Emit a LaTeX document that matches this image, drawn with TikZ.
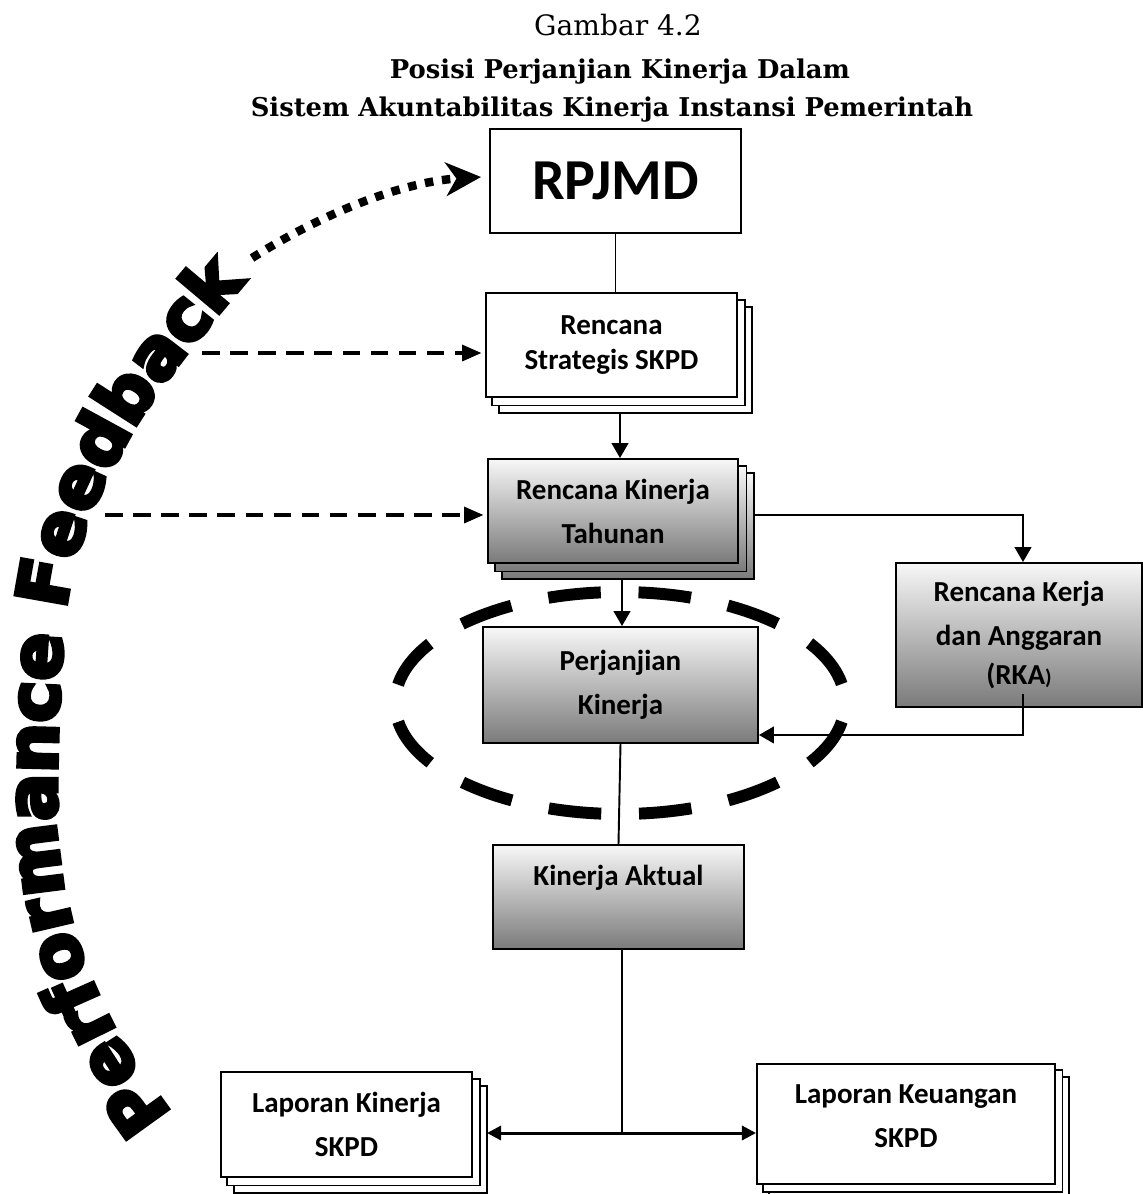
\documentclass[tikz,border=0pt]{standalone}
\usepackage{fontspec}
\setmainfont{Carlito}
\newfontfamily\titlefont{DejaVu Serif}
\newfontfamily\pffont{DejaVu Sans}[BoldFeatures={FakeBold=6}]
\usetikzlibrary{arrows.meta,decorations.text,backgrounds,calc}

% one drawing unit = one pixel of the layout grid
\newlength\pxu
\setlength\pxu{0.02cm}
\newcommand\boxfont{\fontsize{16.5}{25}\selectfont\bfseries}
\newcommand\pfstyle{\pffont\bfseries\fontsize{40}{40}\selectfont}

% two copies of a box, offset down and to the right, drawn behind it
\newcommand\stackbehind[4]{%
  \begin{pgfonlayer}{background}
    \path[#2] ($(#1.south west)+(2*#3,2*#4)$) rectangle ($(#1.north east)+(2*#3,2*#4)$);
    \path[#2] ($(#1.south west)+(#3,#4)$) rectangle ($(#1.north east)+(#3,#4)$);
  \end{pgfonlayer}}

\begin{document}
\begin{tikzpicture}[x=1\pxu, y=-1\pxu,
  box/.style={draw=black, line width=1.1pt, inner sep=0pt, align=center, font=\boxfont},
  plainbox/.style={box, fill=white},
  gradbox/.style={box, top color=black!3, bottom color=black!52},
  copyplain/.style={draw=black, line width=1.1pt, fill=white},
  copygrad/.style={draw=black, line width=1.1pt, top color=black!3, bottom color=black!52},
  conn/.style={draw=black, line width=1.1pt},
  conntip/.style={conn, -{Triangle[length=8.5pt,width=9.5pt]}},
  fbdash/.style={line width=2pt, dash pattern=on 10pt off 6pt, -{Triangle[length=11pt,width=9pt]}, shorten >=2pt},
  fbdots/.style={line width=4.8pt, dash pattern=on 4.8pt off 5pt, -{Stealth[length=20pt,width=19pt,inset=6pt]}},
  twohead/.style={line width=1.7pt, {Triangle[length=8pt,width=8pt]}-{Triangle[length=8pt,width=8pt]}},
  ring/.style={line width=6.8pt, dash pattern=on 30pt off 21.5pt, dash phase=40.75pt},
  titlereg/.style={anchor=base, font=\titlefont\fontsize{16}{19}\selectfont},
  titlebold/.style={anchor=base, font=\titlefont\bfseries\fontsize{14.7}{18}\selectfont},
]
\useasboundingbox (0,0) rectangle (1143,1194);

% heading
\node[titlereg] (t1) at (618,35) {Gambar 4.2};
\node[titlebold] (t2) at (620,78) {Posisi Perjanjian Kinerja Dalam};
\node[titlebold] (t3) at (612,116) {Sistem Akuntabilitas Kinerja Instansi Pemerintah};

% planning chain
\node[plainbox, minimum width=251\pxu, minimum height=104\pxu,
      font=\fontsize{33}{36}\selectfont\bfseries] (rpjmd) at (615.5,181) {RPJMD};
\node[plainbox, minimum width=251\pxu, minimum height=104\pxu] (renstra) at (611.5,345)
  {Rencana\\[-5pt]Strategis SKPD};
\stackbehind{renstra}{copyplain}{7}{7.5}
\node[gradbox, minimum width=250\pxu, minimum height=104\pxu] (rkt) at (613,511)
  {Rencana Kinerja\\Tahunan};
\stackbehind{rkt}{copygrad}{7.5}{7.5}
\node[gradbox, minimum width=246\pxu, minimum height=144\pxu] (rka) at (1019,635)
  {Rencana Kerja\\dan Anggaran\\[-3pt](RKA{\fontsize{12}{12}\selectfont)}};
\node[gradbox, minimum width=275\pxu, minimum height=116\pxu] (pk) at (620.5,685)
  {Perjanjian\\Kinerja};
\node[gradbox, minimum width=251\pxu, minimum height=104\pxu] (ka) at (618.5,897)
  {Kinerja Aktual\\\mbox{}};

% reports
\node[plainbox, minimum width=251\pxu, minimum height=105\pxu] (lk) at (346.5,1124.5)
  {Laporan Kinerja\\SKPD};
\stackbehind{lk}{copyplain}{7}{7.5}
\node[plainbox, minimum width=298\pxu, minimum height=120\pxu] (lku) at (906,1124)
  {Laporan Keuangan\\SKPD\\[-16pt]\mbox{}};
\stackbehind{lku}{copyplain}{6.5}{7}

% connectors
\draw[conn] (rpjmd.south) -- (rpjmd.south |- renstra.north);
\coordinate (a1) at ($(renstra.south)+(8.5,15)$);
\draw[conntip] (a1) -- (a1 |- rkt.north);
\coordinate (a2) at ($(rkt.south)+(9,15)$);
\draw[conntip] (a2) -- (a2 |- pk.north);
\coordinate (a3) at ($(rkt.east)+(15,4)$);
\coordinate (a3b) at ($(rka.north)+(4,0)$);
\draw[conntip] (a3) -| (a3b);
\coordinate (a4) at ($(rka.south)+(4,-14)$);
\coordinate (a4b) at ($(pk.south east)+(0,-9)$);
\draw[conntip] (a4) |- (a4b);
\draw[conn] (pk.south) -- (ka.north);
\coordinate (kabot) at ($(ka.south)+(3.5,0)$);
\coordinate (split) at ($(ka.south)+(3.5,184)$);
\draw[conn] (kabot) -- (split);
\coordinate (b1) at ($(lk.east)+(14,8.5)$);
\draw[twohead] (b1) -- (b1 -| lku.west);

% the agreement ring
\draw[ring] (620,703) ellipse [x radius=225, y radius=111];

% feedback loop
\coordinate (fb1) at (202,353);
\draw[fbdash] (fb1) -- (fb1 -| renstra.west);
\coordinate (fb2) at (105,515);
\draw[fbdash] (fb2) -- (fb2 -| rkt.west);
\path[decorate, decoration={text along path, text align=left,
      text={|\pfstyle|Performance Feedback}}]
  plot[smooth] coordinates {(172,1114) (121,1040) (80,950) (59,856) (57,760) (62,650)
                            (72,573) (99,495) (152,400) (235,294) (263,272) (291,255)};
\coordinate (fbend) at (252,258);
\draw[fbdots] (fbend) .. controls (320,215) and (400,182) .. ($(rpjmd.west)+(-8,-4)$);
\end{tikzpicture}
\end{document}
